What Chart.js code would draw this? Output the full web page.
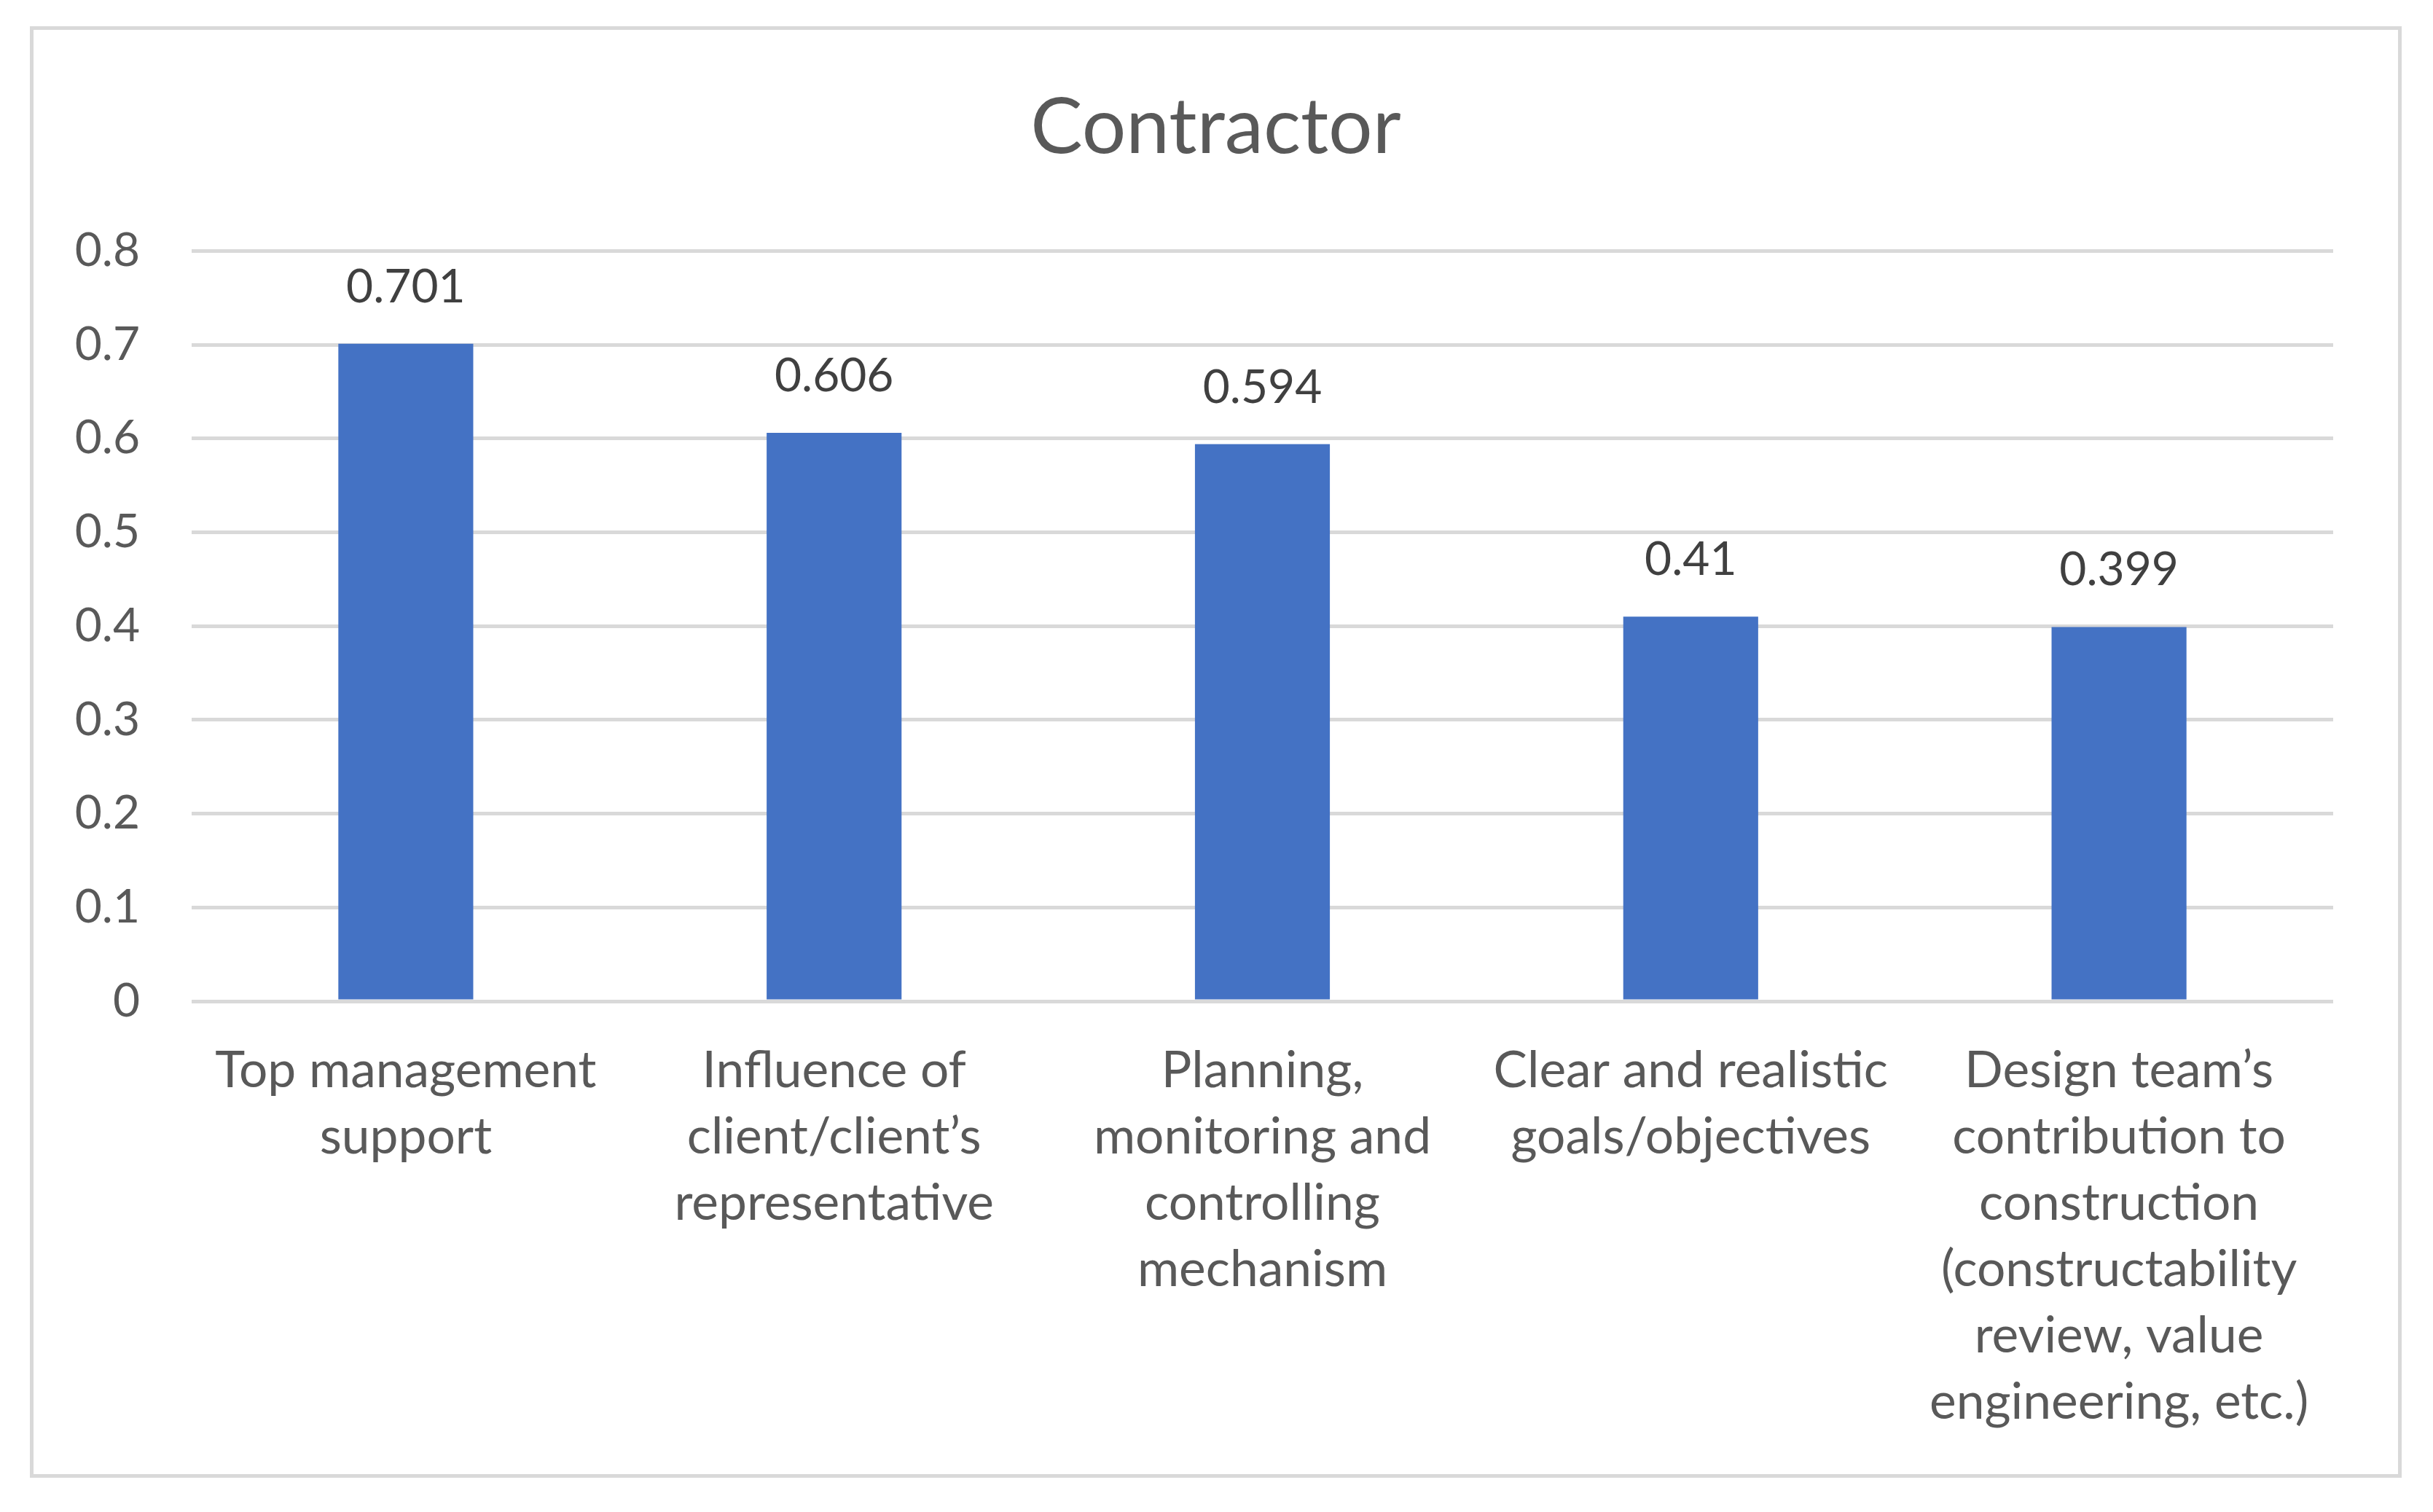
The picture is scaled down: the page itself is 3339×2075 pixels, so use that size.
<!DOCTYPE html>
<html>
<head>
<meta charset="utf-8">
<script src="https://cdn.jsdelivr.net/npm/chart.js@4"></script>
<style>
  html, body { margin: 0; padding: 0; background: #ffffff; }
  #wrap { position: absolute; left: 0; top: 0; width: 3339px; height: 2075px; }
  #frame { position: absolute; left: 41px; top: 36px; width: 3255px; height: 1992px;
           border: 5px solid #d9d9d9; box-sizing: border-box; pointer-events: none; }
</style>
</head>
<body>
<div id="wrap">
  <canvas id="c" width="3339" height="2075"></canvas>
  <div id="frame"></div>
</div>
<script>
const chartTitle = "Contractor";
const categories = [
  ["Top management", "support"],
  ["Influence of", "client/client\u2019s", "representative"],
  ["Planning,", "monitoring and", "controlling", "mechanism"],
  ["Clear and realistic", "goals/objectives"],
  ["Design team\u2019s", "contribution to", "construction", "(constructability", "review, value", "engineering, etc.)"]
];
const values = [0.701, 0.606, 0.594, 0.41, 0.399];
const yTicks = [0, 0.1, 0.2, 0.3, 0.4, 0.5, 0.6, 0.7, 0.8];

const LABEL_FONT = "Lato, 'Open Sans', sans-serif";

const valueLabelPlugin = {
  id: "valueLabels",
  afterDatasetsDraw(chart) {
    const ctx = chart.ctx;
    const meta = chart.getDatasetMeta(0);
    ctx.save();
    ctx.font = "64px " + LABEL_FONT;
    ctx.fillStyle = "#404040";
    ctx.textAlign = "center";
    ctx.textBaseline = "alphabetic";
    meta.data.forEach((bar, i) => {
      ctx.fillText(String(values[i]), bar.x, bar.y - 57);
    });
    ctx.restore();
  }
};

new Chart(document.getElementById("c"), {
  type: "bar",
  data: {
    labels: categories,
    datasets: [{
      data: values,
      backgroundColor: "#4472c4",
      borderWidth: 0,
      categoryPercentage: 1,
      barPercentage: 0.315
    }]
  },
  options: {
    responsive: false,
    devicePixelRatio: 1,
    animation: false,
    layout: { padding: { left: 46, right: 48, top: 41, bottom: 52 } },
    plugins: {
      legend: { display: false },
      tooltip: { enabled: false },
      title: {
        display: true,
        text: chartTitle,
        color: "#595959",
        font: { family: LABEL_FONT, size: 107, weight: "normal", lineHeight: 1.2 },
        padding: { top: 70, bottom: 105 }
      }
    },
    scales: {
      x: {
        grid: { display: false, drawTicks: false },
        border: { display: false },
        ticks: {
          color: "#595959",
          padding: 50,
          maxRotation: 0,
          autoSkip: false,
          font: { family: LABEL_FONT, size: 69.5, lineHeight: "91px" }
        },
        afterFit(s) { s.height = 649; }
      },
      y: {
        min: 0,
        max: 0.8,
        afterBuildTicks(s) { s.ticks = yTicks.map(v => ({ value: v })); },
        grid: { color: "#d9d9d9", lineWidth: 5, drawTicks: false },
        border: { display: false },
        ticks: {
          color: "#595959",
          padding: 71,
          font: { family: LABEL_FONT, size: 64 },
          callback: (v) => String(Number(v.toFixed(1)))
        },
        afterFit(s) { s.width = 217; }
      },
      yRight: {
        position: "right",
        min: 0,
        max: 0.8,
        grid: { display: false, drawTicks: false },
        border: { display: false },
        ticks: { display: false },
        afterFit(s) { s.width = 89; }
      }
    }
  },
  plugins: [valueLabelPlugin]
});
</script>
</body>
</html>
